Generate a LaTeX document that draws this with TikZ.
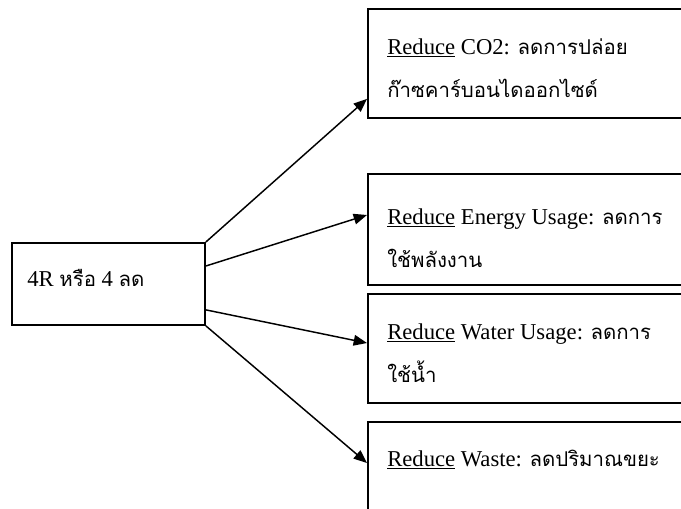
\documentclass[tikz,border=0pt]{standalone}
\usepackage{fontspec}
\setmainfont{Liberation Serif}
\newfontfamily\thaifont[Script=Thai,Scale=0.9]{Loma}
\usetikzlibrary{calc,arrows.meta}

\tikzset{
  box/.style={shape=rectangle,draw=black,line width=1.4pt,inner sep=0pt},
  txt/.style={anchor=base west,inner sep=0pt,align=left,font=\fontsize{17}{32}\selectfont},
  arr/.style={-{Triangle[length=10pt,width=8pt]},line width=1.1pt}
}

\begin{document}
\begin{tikzpicture}[x=0.75pt,y=-0.75pt]
                  \clip (0,0) rectangle (681,508);
                  \fill[white] (0,0) rectangle (681,508);

                  % boxes
                  \node[box,minimum width=193*0.75pt,minimum height=82*0.75pt,anchor=north west] (src) at (11,242) {};
                  \node[box,minimum width=340*0.75pt,minimum height=109*0.75pt,anchor=north west] (co2) at (367,8) {};
                  \node[box,minimum width=340*0.75pt,minimum height=111*0.75pt,anchor=north west] (energy) at (367,173) {};
                  \node[box,minimum width=340*0.75pt,minimum height=109*0.75pt,anchor=north west] (water) at (367,293) {};
                  \node[box,minimum width=340*0.75pt,minimum height=120*0.75pt,anchor=north west] (waste) at (367,421) {};

                  % texts (base anchor = last line)
                  \node[txt] (srctxt) at (27,286) {4R {\thaifont หรือ} 4 {\thaifont ลด}};
                  \node[txt] (co2txt) at (387,97) {\underline{Reduce} CO2: {\thaifont ลดการปล่อย}\\{\thaifont ก๊าซคาร์บอนไดออกไซด์}};
                  \node[txt] (energytxt) at (387,267) {\underline{Reduce} Energy Usage: {\thaifont ลดการ}\\{\thaifont ใช้พลังงาน}};
                  \node[txt] (watertxt) at (387,382) {\underline{Reduce} Water Usage: {\thaifont ลดการ}\\{\thaifont ใช้น้ำ}};
                  \node[txt] (wastetxt) at (387,466) {\underline{Reduce} Waste: {\thaifont ลดปริมาณขยะ}};

                  % arrows
                  \draw[arr] (src.north east) -- ($(co2.south west)+(0,-20)$);
                  \draw[arr] ($(src.north east)+(0,24)$) -- ($(energy.north west)+(0,42)$);
                  \draw[arr] ($(src.south east)+(0,-16)$) -- ($(water.north west)+(0,50)$);
                  \draw[arr] (src.south east) -- ($(waste.north west)+(0,42)$);
              \end{tikzpicture}
\end{document}
